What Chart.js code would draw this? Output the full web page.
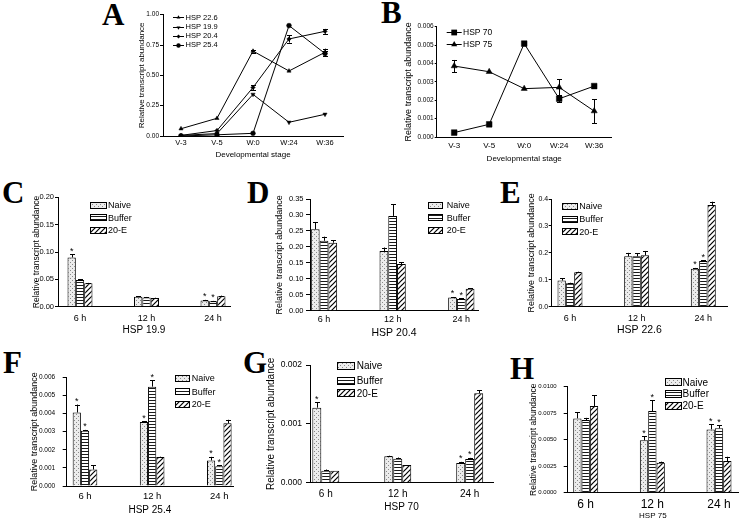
<!DOCTYPE html>
<html>
<head>
<meta charset="utf-8">
<script src="https://cdn.jsdelivr.net/npm/chart.js@4.4.0/dist/chart.umd.min.js"></script>
<style>
  html, body { margin: 0; padding: 0; background: #fff; }
  body { position: relative; width: 739px; height: 522px; overflow: hidden; }
  canvas { position: absolute; }
  .lab { position: absolute; font: bold 31px "Liberation Serif", "Times New Roman", serif; line-height: 1; color: #000; }
</style>
</head>
<body>
<div class="lab" style="left:102px;top:-1px">A</div>
<div class="lab" style="left:381px;top:-3px">B</div>
<div class="lab" style="left:2px;top:177px">C</div>
<div class="lab" style="left:247px;top:177px">D</div>
<div class="lab" style="left:500px;top:177px">E</div>
<div class="lab" style="left:3px;top:347px">F</div>
<div class="lab" style="left:243px;top:347px">G</div>
<div class="lab" style="left:510px;top:353px">H</div>

<canvas id="chartA"></canvas>
<canvas id="chartB"></canvas>
<canvas id="chartC"></canvas>
<canvas id="chartD"></canvas>
<canvas id="chartE"></canvas>
<canvas id="chartF"></canvas>
<canvas id="chartG"></canvas>
<canvas id="chartH"></canvas>

<script>
'use strict';

// ---- data ----
var stages = ['V-3', 'V-5', 'W:0', 'W:24', 'W:36'];
var hsp226Stage = [0.06, 0.146, 0.70, 0.536, 0.69];
var hsp199Stage = [0.005, 0.02, 0.343, 0.113, 0.179];
var hsp204Stage = [0.005, 0.045, 0.40, 0.80, 0.863];
var hsp254Stage = [0.0, 0.01, 0.022, 0.91, 0.68];
var hsp226StageErr = [0, 0, 0.012, 0, 0.03];
var hsp199StageErr = [0, 0, 0, 0, 0];
var hsp204StageErr = [0, 0, 0.02, 0.03, 0.02];
var hsp254StageErr = [0, 0, 0, 0, 0.02];
var aTicks = [0, 0.25, 0.5, 0.75, 1];

var hsp70Stage = [0.00024, 0.00069, 0.00508, 0.00208, 0.00277];
var hsp75Stage = [0.00386, 0.00355, 0.00263, 0.0027, 0.00141];
var hsp70StageErr = [0, 0, 0.0001, 0.0002, 0.0001];
var hsp75StageErr = [0.00033, 0, 0, 0.00045, 0.00065];
var bTicks = [0, 0.001, 0.002, 0.003, 0.004, 0.005, 0.006];

var hours = ['6 h', '12 h', '24 h'];
var treatments = ['Naive', 'Buffer', '20-E'];

// HSP 19.9
var hsp199Naive = [0.090, 0.018, 0.0115];
var hsp199NaiveErr = [0.006, 0.001, 0.001];
var hsp199NaiveStar = [1, 0, 1];
var hsp199Buffer = [0.049, 0.017, 0.0098];
var hsp199BufferErr = [0.0008, 0.0008, 0.0008];
var hsp199BufferStar = [0, 0, 1];
var hsp199E = [0.043, 0.016, 0.019];
var hsp199EErr = [0.0005, 0.0005, 0.0012];
var hsp199EStar = [0, 0, 0];
var cTicks = [0, 0.05, 0.10, 0.15, 0.20];

// HSP 20.4
var hsp204Naive = [0.255, 0.187, 0.041];
var hsp204NaiveErr = [0.023, 0.011, 0.002];
var hsp204NaiveStar = [0, 0, 1];
var hsp204Buffer = [0.219, 0.297, 0.037];
var hsp204BufferErr = [0.013, 0.037, 0.002];
var hsp204BufferStar = [0, 0, 1];
var hsp204E = [0.213, 0.146, 0.069];
var hsp204EErr = [0.007, 0.006, 0.002];
var hsp204EStar = [0, 0, 0];
var dTicks = [0, 0.05, 0.10, 0.15, 0.20, 0.25, 0.30, 0.35];

// HSP 22.6
var hsp226Naive = [0.097, 0.187, 0.141];
var hsp226NaiveErr = [0.009, 0.013, 0.003];
var hsp226NaiveStar = [0, 0, 1];
var hsp226Buffer = [0.087, 0.187, 0.170];
var hsp226BufferErr = [0.002, 0.011, 0.003];
var hsp226BufferStar = [0, 0, 1];
var hsp226E = [0.128, 0.191, 0.378];
var hsp226EErr = [0.002, 0.016, 0.012];
var hsp226EStar = [0, 0, 0];
var eTicks = [0, 0.1, 0.2, 0.3, 0.4];

// HSP 25.4
var hsp254Naive = [0.00406, 0.00353, 0.00141];
var hsp254NaiveErr = [0.00044, 0.00005, 0.0002];
var hsp254NaiveStar = [1, 1, 1];
var hsp254Buffer = [0.00305, 0.00549, 0.00109];
var hsp254BufferErr = [0.00005, 0.00036, 0.00005];
var hsp254BufferStar = [1, 1, 1];
var hsp254E = [0.00091, 0.00160, 0.00346];
var hsp254EErr = [0.00023, 0.00002, 0.0002];
var hsp254EStar = [0, 0, 0];
var fTicks = [0, 0.001, 0.002, 0.003, 0.004, 0.005, 0.006];

// HSP 70
var hsp70Naive = [0.001275, 0.000448, 0.000334];
var hsp70NaiveErr = [0.00009, 0.00001, 0.00002];
var hsp70NaiveStar = [1, 0, 1];
var hsp70Buffer = [0.000204, 0.000408, 0.000402];
var hsp70BufferErr = [0.00002, 0.00002, 0.00002];
var hsp70BufferStar = [0, 0, 1];
var hsp70E = [0.000204, 0.0003, 0.00152];
var hsp70EErr = [0, 0, 0.00005];
var hsp70EStar = [0, 0, 0];
var gTicks = [0, 0.001, 0.002];

// HSP 75
var hsp75Naive = [0.00701, 0.00494, 0.00597];
var hsp75NaiveErr = [0.0006, 0.0004, 0.0005];
var hsp75NaiveStar = [0, 1, 1];
var hsp75Buffer = [0.00686, 0.0077, 0.00607];
var hsp75BufferErr = [0.0002, 0.001, 0.0003];
var hsp75BufferStar = [0, 1, 1];
var hsp75E = [0.00818, 0.00283, 0.00299];
var hsp75EErr = [0.001, 0.0001, 0.0004];
var hsp75EStar = [0, 0, 0];
var hTicks = [0, 0.0025, 0.005, 0.0075, 0.01];

var yTitle = 'Relative transcript abundance';
var FONT = 'Arial, "Liberation Sans", sans-serif';

Chart.defaults.font.family = FONT;
Chart.defaults.color = '#000';

// ---- fill patterns ----
function tile(w, h, paint) {
  var c = document.createElement('canvas');
  c.width = w; c.height = h;
  var g = c.getContext('2d');
  paint(g);
  return g.createPattern(c, 'repeat');
}
var patNaive = tile(4, 4, function (g) {
  g.fillStyle = '#ececec'; g.fillRect(0, 0, 4, 4);
  g.fillStyle = '#8a8a8a'; g.fillRect(0, 0, 1, 1); g.fillRect(2, 2, 1, 1);
});
var patBuffer = tile(4, 3, function (g) {
  g.fillStyle = '#fff'; g.fillRect(0, 0, 4, 3);
  g.fillStyle = '#1a1a1a'; g.fillRect(0, 1, 4, 1);
});
var patE = tile(5, 5, function (g) {
  g.fillStyle = '#fff'; g.fillRect(0, 0, 5, 5);
  g.strokeStyle = '#000'; g.lineWidth = 1.2;
  g.beginPath(); g.moveTo(-1, 6); g.lineTo(6, -1); g.stroke();
  g.beginPath(); g.moveTo(-1, 1); g.lineTo(1, -1); g.stroke();
  g.beginPath(); g.moveTo(4, 6); g.lineTo(6, 4); g.stroke();
});
var fills = [patNaive, patBuffer, patE];

// ---- plugins ----
function valueOf(d) { return typeof d === 'number' ? d : d.y; }

var errPlugin = {
  id: 'errBars',
  afterDatasetsDraw: function (chart) {
    var ctx = chart.ctx, ys = chart.scales.y;
    var isBar = chart.config.type === 'bar';
    ctx.save();
    ctx.strokeStyle = '#000';
    ctx.fillStyle = '#000';
    ctx.lineWidth = 1;
    chart.data.datasets.forEach(function (ds, di) {
      var meta = chart.getDatasetMeta(di);
      meta.data.forEach(function (el, i) {
        var v = valueOf(ds.data[i]);
        var e = ds.err ? ds.err[i] : 0;
        var x = Math.round(el.x) + 0.5;
        var top = ys.getPixelForValue(v + e);
        if (e > 0) {
          var bot = isBar ? el.y : ys.getPixelForValue(v - e);
          ctx.beginPath();
          ctx.moveTo(x, bot); ctx.lineTo(x, top);
          ctx.moveTo(x - 2.5, Math.round(top) + 0.5); ctx.lineTo(x + 2.5, Math.round(top) + 0.5);
          if (!isBar) { ctx.moveTo(x - 2.5, Math.round(bot) + 0.5); ctx.lineTo(x + 2.5, Math.round(bot) + 0.5); }
          ctx.stroke();
        }
        if (ds.star && ds.star[i]) {
          ctx.font = '9px ' + FONT;
          ctx.textAlign = 'center';
          ctx.textBaseline = 'alphabetic';
          ctx.fillText('*', el.x, top - 0.5);
        }
      });
    });
    ctx.restore();
  }
};

function mark(ctx, style, x, y, r) {
  ctx.beginPath();
  if (style === 'circle') ctx.arc(x, y, r, 0, Math.PI * 2);
  else if (style === 'rect') ctx.rect(x - r * 0.72, y - r * 0.72, r * 1.44, r * 1.44);
  else if (style === 'tri') { ctx.moveTo(x, y - r); ctx.lineTo(x + r * 0.87, y + r * 0.5); ctx.lineTo(x - r * 0.87, y + r * 0.5); }
  else if (style === 'triDown') { ctx.moveTo(x, y + r); ctx.lineTo(x + r * 0.87, y - r * 0.5); ctx.lineTo(x - r * 0.87, y - r * 0.5); }
  else if (style === 'diamond') { ctx.moveTo(x, y - r); ctx.lineTo(x + r, y); ctx.lineTo(x, y + r); ctx.lineTo(x - r, y); }
  ctx.closePath();
  ctx.fill();
}

// legend drawn inside the plot, coordinates given in page pixels
function keyPlugin(k, x0, y0) {
  return {
    id: 'key',
    afterDraw: function (chart) {
      var ctx = chart.ctx;
      ctx.save();
      ctx.font = k.font + 'px ' + FONT;
      ctx.textBaseline = 'middle';
      ctx.textAlign = 'left';
      k.items.forEach(function (it, i) {
        var y = k.rows[i] - y0;
        if (it.fill) {
          var sx = Math.round(k.sx - x0), sy = Math.round(y - k.sh / 2);
          ctx.fillStyle = it.fill;
          ctx.fillRect(sx, sy, k.sw, k.sh);
          ctx.strokeStyle = '#000'; ctx.lineWidth = 1;
          ctx.strokeRect(sx + 0.5, sy + 0.5, k.sw - 1, k.sh - 1);
        } else {
          ctx.strokeStyle = '#000'; ctx.lineWidth = 1;
          ctx.beginPath();
          ctx.moveTo(k.sx - x0, Math.round(y) + 0.5); ctx.lineTo(k.ex - x0, Math.round(y) + 0.5);
          ctx.stroke();
          ctx.fillStyle = '#000';
          mark(ctx, it.mark, (k.sx + k.ex) / 2 - x0, Math.round(y) + 0.5, it.r);
        }
        ctx.fillStyle = '#000';
        ctx.fillText(it.label, k.tx - x0, y + 0.5);
      });
      ctx.restore();
    }
  };
}

function yAxis(p, x0) {
  return {
    min: 0, max: p.yt[p.yt.length - 1],
    afterBuildTicks: function (s) { s.ticks = p.yt.map(function (v) { return { value: v }; }); },
    afterFit: function (s) { s.width = p.area[0] - x0; },
    grid: { display: true, drawOnChartArea: false, drawTicks: true, tickLength: p.tl, color: '#000', lineWidth: 1 },
    border: { display: true, color: '#000', width: 1 },
    ticks: { callback: function (v) { return v.toFixed(p.dec); }, font: { size: p.yf }, padding: p.tp },
    title: { display: true, text: yTitle, font: { size: p.ytf }, padding: { top: p.yTitleX - x0 - p.ytf * 0.6, bottom: 0 } }
  };
}

function setCanvas(id, p) {
  var cv = document.getElementById(id);
  cv.width = p.box[2]; cv.height = p.box[3];
  cv.style.left = p.box[0] + 'px'; cv.style.top = p.box[1] + 'px';
  return cv;
}

function barPanel(id, p) {
  var cv = setCanvas(id, p);
  var x0 = p.box[0], y0 = p.box[1], bottom = y0 + p.box[3];
  var L = p.area[0], T = p.area[1], R = p.area[2], B = p.area[3];
  var c = p.centers, step = (c[2] - c[0]) / 2;
  var datasets = p.series.map(function (s, k) {
    return {
      label: treatments[k],
      data: s.v.map(function (v, i) { return { x: i + 1, y: v }; }),
      err: s.e, star: s.s,
      backgroundColor: fills[k], borderColor: '#000', borderWidth: 1,
      categoryPercentage: p.cat, barPercentage: 1
    };
  });
  new Chart(cv, {
    type: 'bar',
    data: { datasets: datasets },
    options: {
      responsive: false, animation: false, devicePixelRatio: 1,
      layout: { padding: { left: 0, top: T - y0, right: x0 + p.box[2] - R, bottom: 0 } },
      plugins: { legend: { display: false }, tooltip: { enabled: false } },
      scales: {
        x: {
          type: 'linear', offset: false,
          min: 1 - (c[0] - L) / step,
          max: 3 + (R - c[2]) / step,
          afterBuildTicks: function (s) { s.ticks = hours.map(function (h, i) { return { value: i + 1 }; }); },
          afterFit: function (s) { s.height = bottom - B; },
          grid: { display: false, drawTicks: false, offset: false },
          border: { display: true, color: '#000', width: 1 },
          ticks: {
            callback: function (v) { return hours[Math.round(v) - 1]; },
            font: { size: p.xf }, padding: p.xTickY - B - p.xf * 0.6,
            maxRotation: 0, autoSkip: false
          },
          title: { display: true, text: p.title, font: { size: p.tf }, padding: { top: 0, bottom: bottom - p.titleY - p.tf * 0.6 } }
        },
        y: yAxis(p, x0)
      }
    },
    plugins: [errPlugin, keyPlugin(p.key, x0, y0)]
  });
}

function linePanel(id, p) {
  var cv = setCanvas(id, p);
  var x0 = p.box[0], y0 = p.box[1], bottom = y0 + p.box[3];
  var T = p.area[1], R = p.area[2], B = p.area[3];
  var datasets = p.series.map(function (s) {
    return {
      label: s.name, data: s.v, err: s.e,
      borderColor: '#000', borderWidth: 1, backgroundColor: '#000',
      pointStyle: s.ps, pointRotation: s.rot || 0, pointRadius: s.r,
      pointBackgroundColor: '#000', pointBorderColor: '#000', pointBorderWidth: 0.5,
      tension: 0, fill: false
    };
  });
  new Chart(cv, {
    type: 'line',
    data: { labels: stages, datasets: datasets },
    options: {
      responsive: false, animation: false, devicePixelRatio: 1,
      layout: { padding: { left: 0, top: T - y0, right: x0 + p.box[2] - R, bottom: 0 } },
      plugins: { legend: { display: false }, tooltip: { enabled: false } },
      scales: {
        x: {
          type: 'category', offset: true,
          afterFit: function (s) { s.height = bottom - B; },
          grid: { display: false, drawTicks: false },
          border: { display: true, color: '#000', width: 1 },
          ticks: { font: { size: p.xf }, padding: p.xTickY - B - p.xf * 0.6, maxRotation: 0, autoSkip: false },
          title: { display: true, text: 'Developmental stage', font: { size: p.tf }, padding: { top: 0, bottom: bottom - p.titleY - p.tf * 0.6 } }
        },
        y: yAxis(p, x0)
      }
    },
    plugins: [errPlugin, keyPlugin(p.key, x0, y0)]
  });
}

// ---- panels ----
linePanel('chartA', {
  box: [128, 6, 222, 160], area: [163, 14.7, 343, 136],
  yt: aTicks, dec: 2, yf: 6.5, tl: 3, tp: 1, ytf: 8, yTitleX: 141.7,
  xf: 7.5, xTickY: 142.7, tf: 8, titleY: 155,
  series: [
    { name: 'HSP 22.6', v: hsp226Stage, e: hsp226StageErr, ps: 'triangle', r: 2.4 },
    { name: 'HSP 19.9', v: hsp199Stage, e: hsp199StageErr, ps: 'triangle', rot: 180, r: 2.4 },
    { name: 'HSP 20.4', v: hsp204Stage, e: hsp204StageErr, ps: 'rectRot', r: 2.2 },
    { name: 'HSP 25.4', v: hsp254Stage, e: hsp254StageErr, ps: 'circle', r: 2.4 }
  ],
  key: { font: 7.5, sx: 173, ex: 184, tx: 185.5, rows: [17.3, 26.7, 35.7, 44.7], items: [
    { label: 'HSP 22.6', mark: 'tri', r: 2.2 },
    { label: 'HSP 19.9', mark: 'triDown', r: 2.2 },
    { label: 'HSP 20.4', mark: 'diamond', r: 2 },
    { label: 'HSP 25.4', mark: 'circle', r: 2.2 }
  ] }
});

linePanel('chartB', {
  box: [400, 15, 220, 150], area: [436.7, 26.7, 611.7, 137],
  yt: bTicks, dec: 3, yf: 6.5, tl: 2, tp: 1, ytf: 9, yTitleX: 408.3,
  xf: 8, xTickY: 146, tf: 8, titleY: 158.3,
  series: [
    { name: 'HSP 70', v: hsp70Stage, e: hsp70StageErr, ps: 'rect', r: 4 },
    { name: 'HSP 75', v: hsp75Stage, e: hsp75StageErr, ps: 'triangle', r: 3.5 }
  ],
  key: { font: 8.5, sx: 446.7, ex: 461.7, tx: 463, rows: [31.7, 44], items: [
    { label: 'HSP 70', mark: 'rect', r: 4 },
    { label: 'HSP 75', mark: 'tri', r: 3.5 }
  ] }
});

var barKey = function (font, sx, sw, sh, tx, rows) {
  return { font: font, sx: sx, sw: sw, sh: sh, tx: tx, rows: rows, items: treatments.map(function (t, k) { return { label: t, fill: fills[k] }; }) };
};

barPanel('chartC', {
  box: [20, 188, 218, 148], area: [58, 197.3, 230, 306.7], centers: [80, 146.5, 213], cat: 0.376,
  yt: cTicks, dec: 2, yf: 7.5, tl: 3, tp: 1, ytf: 8.5, yTitleX: 36.7,
  xf: 9, xTickY: 318.3, title: 'HSP 19.9', tf: 10, titleY: 330,
  series: [
    { v: hsp199Naive, e: hsp199NaiveErr, s: hsp199NaiveStar },
    { v: hsp199Buffer, e: hsp199BufferErr, s: hsp199BufferStar },
    { v: hsp199E, e: hsp199EErr, s: hsp199EStar }
  ],
  key: barKey(9, 90, 17, 7, 108, [205, 217.7, 230])
});

barPanel('chartD', {
  box: [262, 190, 224, 150], area: [310, 199, 478, 310.7], centers: [324, 393, 461.3], cat: 0.383,
  yt: dTicks, dec: 2, yf: 7.5, tl: 4, tp: 2.5, ytf: 9, yTitleX: 280,
  xf: 9, xTickY: 320, title: 'HSP 20.4', tf: 10.5, titleY: 333.3,
  series: [
    { v: hsp204Naive, e: hsp204NaiveErr, s: hsp204NaiveStar },
    { v: hsp204Buffer, e: hsp204BufferErr, s: hsp204BufferStar },
    { v: hsp204E, e: hsp204EErr, s: hsp204EStar }
  ],
  key: barKey(9, 428.3, 15, 7, 446.7, [205, 217.7, 230])
});

barPanel('chartE', {
  box: [505, 190, 232, 148], area: [551.7, 199, 727, 306.7], centers: [570, 636.7, 703.3], cat: 0.375,
  yt: eTicks, dec: 1, yf: 7, tl: 3, tp: 0.5, ytf: 9, yTitleX: 531.7,
  xf: 9, xTickY: 318.3, title: 'HSP 22.6', tf: 10.5, titleY: 330,
  series: [
    { v: hsp226Naive, e: hsp226NaiveErr, s: hsp226NaiveStar },
    { v: hsp226Buffer, e: hsp226BufferErr, s: hsp226BufferStar },
    { v: hsp226E, e: hsp226EErr, s: hsp226EStar }
  ],
  key: barKey(9, 561.7, 16, 7, 579.3, [206, 219, 231.7])
});

barPanel('chartF', {
  box: [20, 366, 220, 152], area: [66.7, 375.7, 233, 486], centers: [85, 152.3, 219.3], cat: 0.367,
  yt: fTicks, dec: 3, yf: 6.5, tl: 4, tp: 7.5, ytf: 9, yTitleX: 35,
  xf: 9.5, xTickY: 496, title: 'HSP 25.4', tf: 10, titleY: 510,
  series: [
    { v: hsp254Naive, e: hsp254NaiveErr, s: hsp254NaiveStar },
    { v: hsp254Buffer, e: hsp254BufferErr, s: hsp254BufferStar },
    { v: hsp254E, e: hsp254EErr, s: hsp254EStar }
  ],
  key: barKey(9, 175, 15, 7, 191.7, [378.3, 391.7, 404.3])
});

barPanel('chartG', {
  box: [250, 355, 246, 163], area: [310, 365, 493, 482.7], centers: [325.8, 397.8, 469.7], cat: 0.375,
  yt: gTicks, dec: 3, yf: 8.5, tl: 4, tp: 4, ytf: 10, yTitleX: 271.7,
  xf: 10, xTickY: 494, title: 'HSP 70', tf: 10, titleY: 507.3,
  series: [
    { v: hsp70Naive, e: hsp70NaiveErr, s: hsp70NaiveStar },
    { v: hsp70Buffer, e: hsp70BufferErr, s: hsp70BufferStar },
    { v: hsp70E, e: hsp70EErr, s: hsp70EStar }
  ],
  key: barKey(10, 336.7, 18, 8, 356.7, [366, 380.7, 393.3])
});

barPanel('chartH', {
  box: [505, 376, 234, 146], area: [567.7, 386.7, 738, 492.7], centers: [585.7, 652, 719], cat: 0.375,
  yt: hTicks, dec: 4, yf: 6, tl: 4, tp: 7, ytf: 8.5, yTitleX: 533.3,
  xf: 12, xTickY: 505, title: 'HSP 75', tf: 8, titleY: 515.7,
  series: [
    { v: hsp75Naive, e: hsp75NaiveErr, s: hsp75NaiveStar },
    { v: hsp75Buffer, e: hsp75BufferErr, s: hsp75BufferStar },
    { v: hsp75E, e: hsp75EErr, s: hsp75EStar }
  ],
  key: barKey(10, 665, 17, 8, 682.5, [382.3, 394, 406])
});
</script>
</body>
</html>
